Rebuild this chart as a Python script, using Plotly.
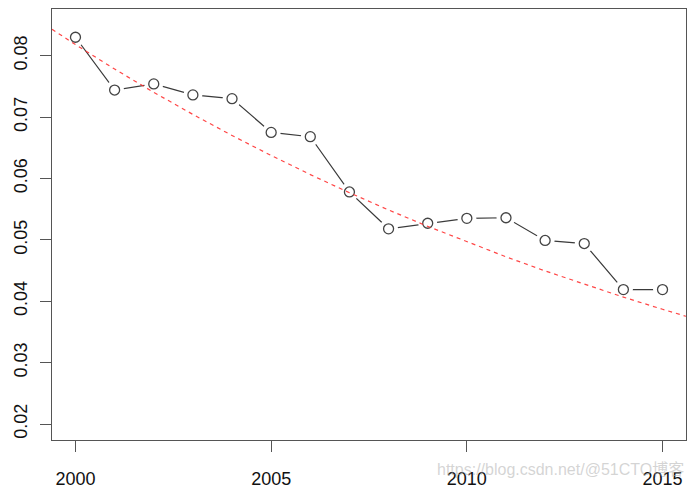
import plotly.graph_objects as go

years = list(range(2000, 2016))
rates = [0.0830, 0.0744, 0.0754, 0.0736, 0.0730, 0.0675, 0.0668, 0.0578,
         0.0518, 0.0527, 0.0535, 0.0536, 0.0499, 0.0494, 0.0419, 0.0419]

# red dashed trend curve
trend_years = [1999.4, 2000, 2001, 2002, 2003, 2004, 2005, 2006, 2007, 2008,
               2009, 2010, 2011, 2012, 2013, 2014, 2015, 2015.6]
trend_vals = [0.08429, 0.08180, 0.07782, 0.07403, 0.07043, 0.06700, 0.06374,
              0.06063, 0.05768, 0.05487, 0.05220, 0.04966, 0.04724, 0.04494,
              0.04276, 0.04067, 0.03869, 0.03755]

x_ticks = [2000, 2005, 2010, 2015]
y_ticks = [0.02, 0.03, 0.04, 0.05, 0.06, 0.07, 0.08]
y_tick_text = ["0.02", "0.03", "0.04", "0.05", "0.06", "0.07", "0.08"]

fig = go.Figure()
fig.add_trace(go.Scatter(x=years, y=rates, mode="lines",
                         line=dict(color="#3a3a3a", width=1.2), hoverinfo="skip"))
# white masks to create gaps around points (like R type="b")
fig.add_trace(go.Scatter(x=years, y=rates, mode="markers",
                         marker=dict(symbol="circle", size=19, color="white",
                                     line=dict(width=0)), hoverinfo="skip"))
fig.add_trace(go.Scatter(x=years, y=rates, mode="markers",
                         marker=dict(symbol="circle-open", size=10, color="#444444",
                                     line=dict(width=1.3))))
fig.add_trace(go.Scatter(x=trend_years, y=trend_vals, mode="lines",
                         line=dict(color="rgba(255,50,50,0.9)", width=1.2, dash="4px,4px"),
                         hoverinfo="skip"))

axis_font = dict(family="Liberation Sans, Arial, sans-serif", size=18, color="#111111")

fig.update_layout(
    width=697, height=497,
    margin=dict(l=52, r=11, t=8, b=55),
    paper_bgcolor="white", plot_bgcolor="white",
    showlegend=False,
    xaxis=dict(range=[1999.4, 2015.6], tickvals=x_ticks, ticks="outside", ticklen=11,
               tickcolor="#555555", tickwidth=1.2,
               showline=True, mirror=True, linecolor="#555555", linewidth=1.2,
               showgrid=False, zeroline=False, tickfont=axis_font, ticklabelstandoff=11),
    yaxis=dict(range=[0.0174, 0.0876], tickvals=y_ticks, ticktext=y_tick_text,
               ticks="outside", ticklen=11, tickcolor="#555555", tickwidth=1.2,
               tickangle=-90,
               showline=True, mirror=True, linecolor="#555555", linewidth=1.2,
               showgrid=False, zeroline=False, tickfont=axis_font, ticklabelstandoff=6),
)

fig.add_annotation(x=1.0, y=-0.092, xref="paper", yref="paper", xanchor="right",
                   text="https://blog.csdn.net/@51CTO博客", showarrow=False,
                   font=dict(family="Liberation Sans, Noto Sans CJK SC, sans-serif",
                             size=16, color="rgba(170,170,170,0.5)"))

fig.write_html("out.html")
